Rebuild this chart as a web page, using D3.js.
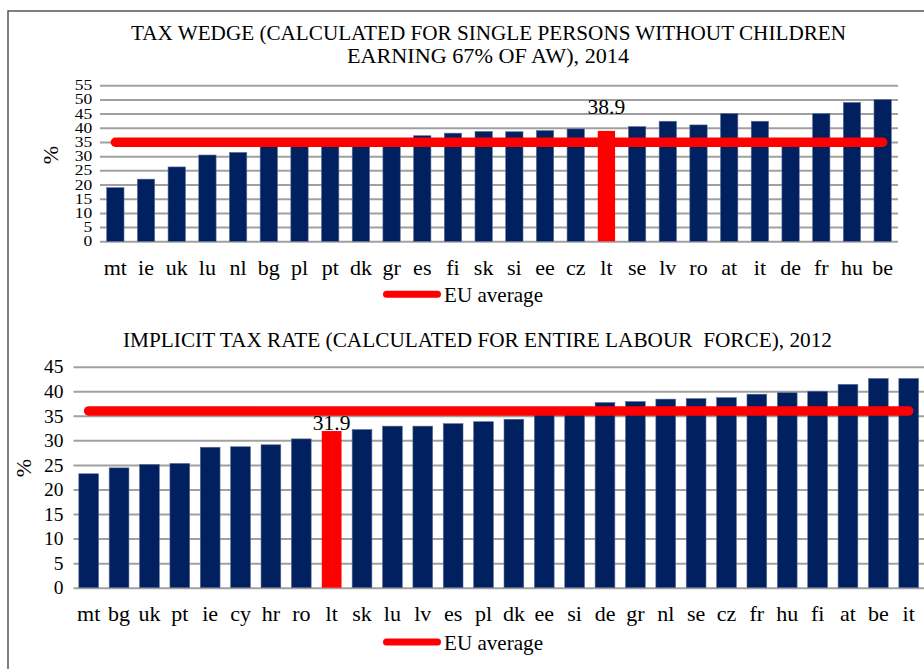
<!DOCTYPE html>
<html>
<head>
<meta charset="utf-8">
<script src="https://cdn.jsdelivr.net/npm/d3@7"></script>
<style>
  body { margin: 0; background: #fff; }
</style>
</head>
<body>
<svg id="chart" width="924" height="669" font-family="Liberation Serif" style="font-family: 'Liberation Serif'"></svg>
<script>
// Tax wedge, single persons without children earning 67% of AW, 2014
const wedgeCategories = ["mt","ie","uk","lu","nl","bg","pl","pt","dk","gr","es","fi","sk","si","ee","cz","lt","se","lv","ro","at","it","de","fr","hu","be"];
const wedgeValues = [18.9, 21.9, 26.2, 30.4, 31.3, 33.6, 34.6, 34.9, 35.0, 35.2, 37.2, 38.1, 38.7, 38.6, 39.0, 39.6, 38.9, 40.4, 42.3, 41.0, 45.0, 42.3, 34.7, 45.0, 48.9, 49.9];
const wedgeAverage = 34.9;
const wedgeTicks = [0, 5, 10, 15, 20, 25, 30, 35, 40, 45, 50, 55];

// Implicit tax rate on labour, entire labour force, 2012
const itrCategories = ["mt","bg","uk","pt","ie","cy","hr","ro","lt","sk","lu","lv","es","pl","dk","ee","si","de","gr","nl","se","cz","fr","hu","fi","at","be","it"];
const itrValues = [23.2, 24.4, 25.1, 25.3, 28.6, 28.7, 29.1, 30.3, 31.9, 32.2, 32.9, 32.9, 33.4, 33.8, 34.3, 35.5, 35.7, 37.7, 37.9, 38.4, 38.5, 38.7, 39.4, 39.7, 40.0, 41.4, 42.6, 42.6];
const itrAverage = 36.0;
const itrTicks = [0, 5, 10, 15, 20, 25, 30, 35, 40, 45];

const highlight = "lt";
const legendLabel = "EU average";

const NAVY = "#002060";
const RED = "#ff0000";
const GRID = "#a0a0a0";
const FONT = "Liberation Serif";

const svg = d3.select("#chart");
svg.append("rect").attr("width", 924).attr("height", 669).attr("fill", "#fff");

// outer frame (top and left edges)
svg.append("path")
  .attr("d", "M8,669V11H924")
  .attr("fill", "none")
  .attr("stroke", "#555")
  .attr("stroke-width", 1.5);

function label(sel) {
  return sel.attr("font-family", FONT).style("font-family", FONT).attr("fill", "#000");
}

function panel(cfg) {
  const data = cfg.categories.map((c, i) => ({ c, v: cfg.values[i] }));
  const x = d3.scaleBand().domain(cfg.categories).range(cfg.xRange)
    .paddingInner(cfg.pad).paddingOuter(cfg.pad / 2);
  const y = d3.scaleLinear().domain([0, d3.max(cfg.ticks)]).range(cfg.yRange);
  const g = svg.append("g").attr("font-family", FONT);

  // title
  cfg.title.forEach(t => {
    g.append("text").attr("x", t.x).attr("y", t.y)
      .attr("font-size", 21)
      .attr("textLength", t.w).attr("lengthAdjust", "spacingAndGlyphs")
      .style("white-space", "pre")
      .call(label)
      .text(t.text);
  });

  // value axis with gridlines
  const yAxis = g.append("g")
    .attr("transform", `translate(${cfg.xRange[0]},0)`)
    .call(d3.axisLeft(y).tickValues(cfg.ticks)
      .tickSize(-(cfg.gridEnd - cfg.xRange[0])));
  yAxis.attr("font-family", FONT);
  yAxis.select(".domain").remove();
  yAxis.selectAll("line").attr("stroke", GRID).attr("stroke-width", 2);
  yAxis.selectAll("text")
    .attr("x", 0)
    .attr("transform", `translate(${-cfg.tickPad},0) scale(${cfg.tickScale},1)`)
    .attr("font-size", cfg.tickFont)
    .call(label);

  // "%" axis title
  g.append("text")
    .attr("transform", `translate(${cfg.pctX},${cfg.pctY}) rotate(-90)`)
    .attr("text-anchor", "middle")
    .attr("font-size", 22)
    .call(label)
    .text("%");

  // bars
  g.append("g").selectAll("rect").data(data).join("rect")
    .attr("x", d => x(d.c))
    .attr("y", d => y(d.v))
    .attr("width", x.bandwidth())
    .attr("height", d => y(0) - y(d.v))
    .attr("fill", d => d.c === highlight ? RED : NAVY)
    .attr("stroke", d => d.c === highlight ? "none" : "#5b6b94")
    .attr("stroke-width", 0.6);

  // value label on the highlighted bar
  const hl = data.find(d => d.c === highlight);
  g.append("text")
    .attr("x", x(hl.c) + x.bandwidth() / 2)
    .attr("y", y(hl.v) - cfg.labelGap)
    .attr("text-anchor", "middle")
    .attr("font-size", 21.5)
    .call(label)
    .text(hl.v.toFixed(1));

  // EU average line
  const first = cfg.categories[0], last = cfg.categories[cfg.categories.length - 1];
  g.append("path")
    .datum([first, last])
    .attr("d", d3.line().x(c => x(c) + x.bandwidth() / 2).y(() => y(cfg.average)))
    .attr("fill", "none")
    .attr("stroke", RED)
    .attr("stroke-width", 9.5)
    .attr("stroke-linecap", "round");

  // category axis
  const xAxis = g.append("g")
    .attr("transform", `translate(0,${cfg.yRange[0]})`)
    .call(d3.axisBottom(x).tickSize(0));
  xAxis.attr("font-family", FONT);
  xAxis.select(".domain").remove();
  xAxis.selectAll("text")
    .attr("y", cfg.catBaseline - cfg.yRange[0])
    .attr("dy", 0)
    .attr("font-size", 22)
    .call(label);

  // legend
  g.append("line")
    .attr("x1", 386.5).attr("x2", 437.5)
    .attr("y1", cfg.legendY).attr("y2", cfg.legendY)
    .attr("stroke", RED).attr("stroke-width", 7).attr("stroke-linecap", "round");
  g.append("text")
    .attr("x", 444).attr("y", cfg.legendY + 8)
    .attr("font-size", 21.5)
    .attr("textLength", 99).attr("lengthAdjust", "spacingAndGlyphs")
    .call(label)
    .text(legendLabel);
}

panel({
  categories: wedgeCategories, values: wedgeValues, average: wedgeAverage, ticks: wedgeTicks,
  xRange: [100, 898], gridEnd: 898, yRange: [241.3, 85.2], pad: 0.436,
  tickPad: 7.7, tickFont: 14, tickScale: 1.25, pctX: 58, pctY: 155, labelGap: 16.5,
  catBaseline: 275, legendY: 294.3,
  title: [
    { text: "TAX WEDGE (CALCULATED FOR SINGLE PERSONS WITHOUT CHILDREN", x: 131, y: 39.5, w: 715 },
    { text: "EARNING 67% OF AW), 2014", x: 347, y: 63, w: 282 }
  ]
});

panel({
  categories: itrCategories, values: itrValues, average: itrAverage, ticks: itrTicks,
  xRange: [73.5, 923.9], gridEnd: 930, yRange: [587.7, 366.7], pad: 0.35,
  tickPad: 10, tickFont: 19.5, tickScale: 1, pctX: 31, pctY: 468, labelGap: 1,
  catBaseline: 621, legendY: 642,
  title: [
    { text: "IMPLICIT TAX RATE (CALCULATED FOR ENTIRE LABOUR  FORCE), 2012", x: 123, y: 347, w: 709 }
  ]
});
</script>
</body>
</html>
